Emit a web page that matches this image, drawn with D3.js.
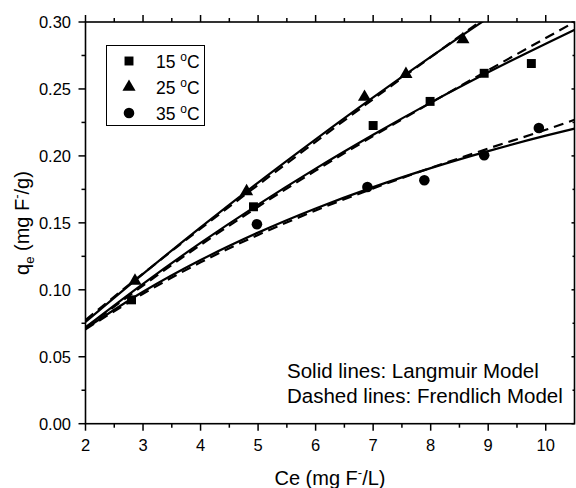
<!DOCTYPE html>
<html><head><meta charset="utf-8">
<script src="https://cdn.jsdelivr.net/npm/d3@7"></script>
<style>
body{margin:0;background:#fff}
text{font-family:"Liberation Sans",Arial,sans-serif;fill:#000}
</style></head><body>
<svg id="c" width="576" height="488"></svg>
<script>
// ---- data ----
const seriesNames = ["15","25","35"];
const ce15 = [2.80, 4.92, 7.00, 7.99, 8.93, 9.75];
const qe15 = [0.0925, 0.162, 0.2227, 0.2407, 0.2617, 0.2690];
const ce25 = [2.86, 4.80, 6.85, 7.57, 8.56];
const qe25 = [0.1067, 0.1735, 0.2440, 0.2610, 0.2870];
const ce35 = [4.98, 6.90, 7.89, 8.93, 9.88];
const qe35 = [0.1490, 0.1768, 0.1818, 0.2005, 0.2208];
// model curves
const curveX = [2, 3, 4, 5, 6, 7, 8, 9, 10, 10.5];
const lang15 = [0.0720, 0.1045, 0.1350, 0.1636, 0.1905, 0.2158, 0.2398, 0.2624, 0.2838, 0.2941];
const freu15 = [0.0715, 0.1032, 0.1335, 0.1620, 0.1890, 0.2148, 0.2396, 0.2640, 0.2880, 0.3000];
const lang25 = [0.0760, 0.1119, 0.1466, 0.1801, 0.2124, 0.2437, 0.2739, 0.3031, 0.3310, 0.3450];
const freu25 = [0.0775, 0.1121, 0.1457, 0.1783, 0.2105, 0.2424, 0.2737, 0.3047, 0.3350, 0.3500];
const lang35 = [0.0710, 0.0985, 0.1222, 0.1427, 0.1607, 0.1767, 0.1909, 0.2036, 0.2151, 0.2204];
const freu35 = [0.0705, 0.0970, 0.1205, 0.1410, 0.1592, 0.1757, 0.1910, 0.2055, 0.2195, 0.2270];
const xTicks = [2,3,4,5,6,7,8,9,10];
const yTicks = [0,0.05,0.10,0.15,0.20,0.25,0.30];

// ---- layout ----
const svg = d3.select("#c");
const L = 85.5, R = 574.5, T = 22, B = 423.7;
const x = d3.scaleLinear().domain([2,10.5]).range([L,R]);
const y = d3.scaleLinear().domain([0,0.30]).range([B,T]);

svg.append("defs").append("clipPath").attr("id","clip")
  .append("rect").attr("x",L).attr("y",T).attr("width",R-L).attr("height",B-T);

// curves
const line = d3.line().x(d=>x(d[0])).y(d=>y(d[1])).curve(d3.curveMonotoneX);
const g = svg.append("g").attr("clip-path","url(#clip)");
[lang15,lang25,lang35].forEach(s=>{
  g.append("path").datum(curveX.map((c,i)=>[c,s[i]])).attr("d",line)
   .attr("fill","none").attr("stroke","#000").attr("stroke-width",2.2);
});
[freu15,freu25,freu35].forEach(s=>{
  g.append("path").datum(curveX.map((c,i)=>[c,s[i]])).attr("d",line)
   .attr("fill","none").attr("stroke","#000").attr("stroke-width",2.2)
   .attr("stroke-dasharray","10,6");
});

// markers
const sq = d3.symbol().type(d3.symbolSquare).size(80);
const tri = d3.symbol().type(d3.symbolTriangle).size(75);
const cir = d3.symbol().type(d3.symbolCircle).size(88);
function pts(cx, qy, sym){
  svg.append("g").selectAll("path").data(cx.map((c,i)=>[c,qy[i]])).join("path")
    .attr("d",sym).attr("transform",d=>`translate(${x(d[0])},${y(d[1])})`).attr("fill","#000");
}
pts(ce15,qe15,sq); pts(ce25,qe25,tri); pts(ce35,qe35,cir);

// axes
const ax = svg.append("g").attr("stroke","#000");
ax.append("rect").attr("x",L).attr("y",T).attr("width",R-L).attr("height",B-T)
  .attr("fill","none").attr("stroke-width",1.6);
const minorX = d3.range(2.5,10.5,1);
const minorY = d3.range(0.025,0.30,0.05);
xTicks.forEach(v=>{
  ax.append("line").attr("x1",x(v)).attr("x2",x(v)).attr("y1",B).attr("y2",B+7).attr("stroke-width",1.5);
  ax.append("line").attr("x1",x(v)).attr("x2",x(v)).attr("y1",T).attr("y2",T-7).attr("stroke-width",1.5);
});
minorX.forEach(v=>{
  ax.append("line").attr("x1",x(v)).attr("x2",x(v)).attr("y1",B).attr("y2",B+4).attr("stroke-width",1.5);
  ax.append("line").attr("x1",x(v)).attr("x2",x(v)).attr("y1",T).attr("y2",T-4).attr("stroke-width",1.5);
});
yTicks.forEach(v=>{
  ax.append("line").attr("x1",L).attr("x2",L-7).attr("y1",y(v)).attr("y2",y(v)).attr("stroke-width",1.5);
  ax.append("line").attr("x1",R).attr("x2",R-3).attr("y1",y(v)).attr("y2",y(v)).attr("stroke-width",1.5);
});
minorY.forEach(v=>{
  ax.append("line").attr("x1",L).attr("x2",L-4).attr("y1",y(v)).attr("y2",y(v)).attr("stroke-width",1.5);
  ax.append("line").attr("x1",R).attr("x2",R-2).attr("y1",y(v)).attr("y2",y(v)).attr("stroke-width",1.5);
});
svg.append("g").selectAll("text").data(xTicks).join("text")
  .attr("x",d=>x(d)).attr("y",451).attr("text-anchor","middle").attr("font-size",16.5).text(d=>d);
svg.append("g").selectAll("text").data(yTicks).join("text")
  .attr("x",71).attr("y",d=>y(d)+6).attr("text-anchor","end").attr("font-size",16.5).text(d=>d.toFixed(2));

// axis titles
const xt = svg.append("text").attr("x",330).attr("y",485).attr("text-anchor","middle").attr("font-size",20);
xt.append("tspan").text("Ce (mg F");
xt.append("tspan").attr("dy",-8).attr("font-size",13).text("-");
xt.append("tspan").attr("dy",8).text("/L)");
const yt = svg.append("text").attr("transform","translate(29,223) rotate(-90)").attr("text-anchor","middle").attr("font-size",20);
yt.append("tspan").text("q");
yt.append("tspan").attr("dy",5).attr("font-size",13).text("e");
yt.append("tspan").attr("dy",-5).text(" (mg F");
yt.append("tspan").attr("dy",-8).attr("font-size",13).text("-");
yt.append("tspan").attr("dy",8).text("/g)");

// legend
const lg = svg.append("g");
lg.append("rect").attr("x",106.5).attr("y",45.5).attr("width",98).attr("height",80)
  .attr("fill","#fff").attr("stroke","#000").attr("stroke-width",1);
const syms = [sq,tri,cir];
seriesNames.forEach((n,i)=>{
  const cy = 61 + i*26;
  lg.append("path").attr("d",syms[i]).attr("transform",`translate(129,${cy})`).attr("fill","#000");
  const t = lg.append("text").attr("x",156).attr("y",cy+6.5).attr("font-size",17.5);
  t.append("tspan").text(n+" ");
  t.append("tspan").attr("dy",-7).attr("font-size",12).text("o");
  t.append("tspan").attr("dy",7).text("C");
});

// annotation
svg.append("text").attr("x",287).attr("y",378).attr("font-size",20.5).text("Solid lines: Langmuir Model");
svg.append("text").attr("x",287).attr("y",403).attr("font-size",20.5).text("Dashed lines: Frendlich Model");
</script></body></html>
